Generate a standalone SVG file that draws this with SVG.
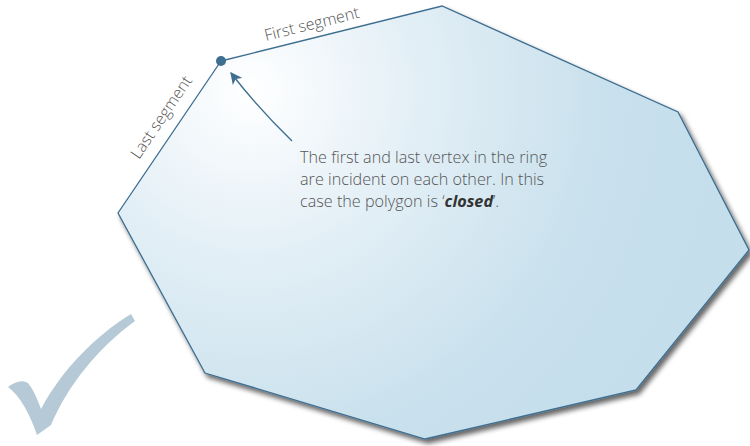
<svg xmlns="http://www.w3.org/2000/svg" width="750" height="446" viewBox="0 0 750 446">
<defs>
<radialGradient id="fillGrad" gradientUnits="userSpaceOnUse" cx="250" cy="90" r="470">
<stop offset="0" stop-color="#ffffff"/>
<stop offset="0.35" stop-color="#e3eff6"/>
<stop offset="0.75" stop-color="#c9e1ed"/>
<stop offset="1" stop-color="#c4deeb"/>
</radialGradient>
<filter id="shadow" x="-10%" y="-10%" width="125%" height="125%">
<feGaussianBlur in="SourceAlpha" stdDeviation="2.5"/>
<feOffset dx="3" dy="4" result="b"/>
<feComponentTransfer><feFuncA type="linear" slope="0.6"/></feComponentTransfer>
<feMerge><feMergeNode/><feMergeNode in="SourceGraphic"/></feMerge>
</filter>
<marker id="arrow" viewBox="0 0 10 10" refX="9" refY="5" markerWidth="8.5" markerHeight="8.5" orient="auto" markerUnits="strokeWidth">
<path d="M0,0 L10,5 L0,10 L2.5,5 Z" fill="#3e6e90"/>
</marker>
<style>
.lbl{font-family:"Open Sans","Noto Sans",sans-serif;font-size:16px;fill:#555;font-weight:300}
.body{font-family:"Open Sans","Noto Sans",sans-serif;font-size:16.2px;fill:#555;font-weight:300}
</style>
</defs>
<g id="checkmark">
<path d="M8,387 C14,382 22,379 28,383 C33,389 37,398 41,409 C62,370 95,336 131,314 L135,321 C98,348 68,385 51,425 L37,435 C30,414 20,396 8,387 Z" fill="#b5cad6"/>
</g>
<g id="polygon">
<polygon points="221,61 442,6 678,112 749,250 636,390 425,439 205,373 118,213" fill="url(#fillGrad)" stroke="#3e6e90" stroke-width="1.3" stroke-linejoin="miter" filter="url(#shadow)"/>
</g>
<g id="vertex">
<circle cx="221" cy="61" r="5" fill="#3e6e90"/>
</g>
<g id="connectors">
<path d="M292,141 Q258,108 231,73" fill="none" stroke="#3e6e90" stroke-width="1.4" marker-end="url(#arrow)"/>
</g>
<g id="labels">
<text class="lbl" transform="translate(266,41) rotate(-14)">First segment</text>
<text class="lbl" transform="translate(139,160) rotate(-56)">Last segment</text>
</g>
<g id="note">
<text class="body" x="300" y="163">The first and last vertex in the ring</text>
<text class="body" x="300" y="185">are incident on each other. In this</text>
<text class="body" x="300" y="207">case the polygon is ‘<tspan font-weight="700" font-style="italic" fill="#333">closed</tspan>’.</text>
</g>
</svg>
